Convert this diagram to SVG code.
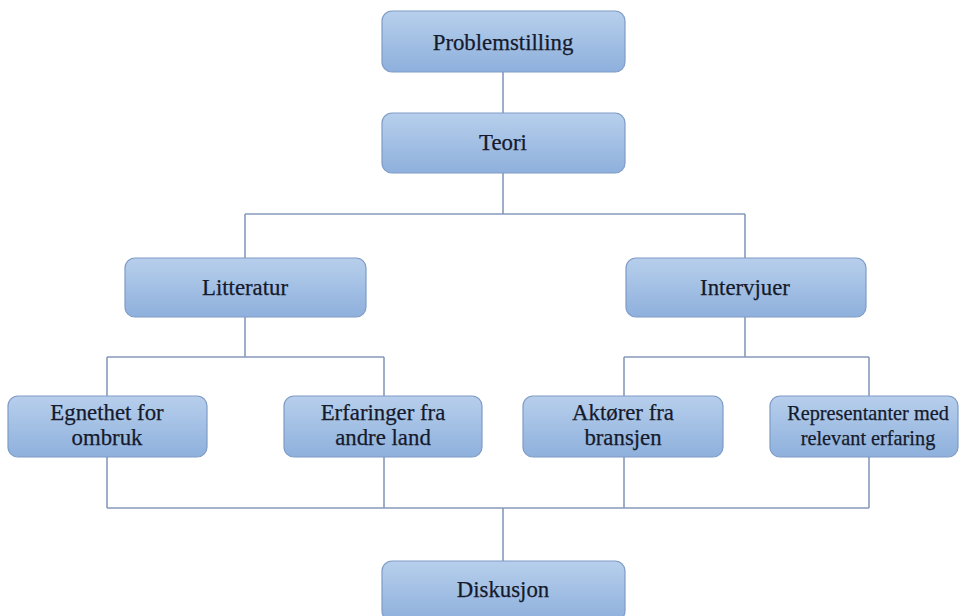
<svg xmlns="http://www.w3.org/2000/svg" width="959" height="616" viewBox="0 0 959 616">
<defs>
<linearGradient id="g" x1="0" y1="0" x2="0" y2="1">
<stop offset="0" stop-color="#b7cfec"/>
<stop offset="1" stop-color="#8eb0dc"/>
</linearGradient>
</defs>
<style>
.n{fill:url(#g);stroke:#7e9cc6;stroke-width:1.2}
.t{font-size:22.8px;fill:#151a2c;stroke:#151a2c;stroke-width:0.25;text-anchor:middle}
.s{font-size:20.3px}
.c{fill:none;stroke:#8799bb;stroke-width:1.6}
</style>
<rect width="959" height="616" fill="#ffffff"/>
<g id="connectors">
<path class="c" d="M503 72V113"/>
<path class="c" d="M503 173V214M245 214H745M245 214V258M745 214V258"/>
<path class="c" d="M245 317V357M107 357H384M107 357V396M384 357V396"/>
<path class="c" d="M745 317V357M624 357H869M624 357V396M869 357V396"/>
<path class="c" d="M107 457V508M384 457V508M624 457V508M869 457V508M107 508H869M503 508V561"/>
</g>
<g font-family="'Liberation Serif', 'DejaVu Serif', serif">
<g id="problemstilling"><rect class="n" x="382" y="11" width="243" height="61" rx="10"/><text class="t" x="503" y="50">Problemstilling</text></g>
<g id="teori"><rect class="n" x="382" y="113" width="243" height="60" rx="10"/><text class="t" x="503" y="150">Teori</text></g>
<g id="litteratur"><rect class="n" x="125" y="258" width="241" height="59" rx="10"/><text class="t" x="245" y="295">Litteratur</text></g>
<g id="intervjuer"><rect class="n" x="626" y="258" width="240" height="59" rx="10"/><text class="t" x="745" y="295">Intervjuer</text></g>
<g id="egnethet"><rect class="n" x="8" y="396" width="199" height="61" rx="10"/><text class="t" x="107" y="420">Egnethet for</text><text class="t" x="107" y="445">ombruk</text></g>
<g id="erfaringer"><rect class="n" x="284" y="396" width="198" height="61" rx="10"/><text class="t" x="383" y="420">Erfaringer fra</text><text class="t" x="383" y="445">andre land</text></g>
<g id="aktorer"><rect class="n" x="523" y="396" width="200" height="61" rx="10"/><text class="t" x="623" y="420">Aktører fra</text><text class="t" x="623" y="445">bransjen</text></g>
<g id="representanter"><rect class="n" x="770" y="396" width="188" height="61" rx="10"/><text class="t s" x="868" y="420">Representanter med</text><text class="t s" x="868" y="445">relevant erfaring</text></g>
<g id="diskusjon"><rect class="n" x="382" y="561" width="243" height="60" rx="10"/><text class="t" x="503" y="597">Diskusjon</text></g>
</g>
</svg>
